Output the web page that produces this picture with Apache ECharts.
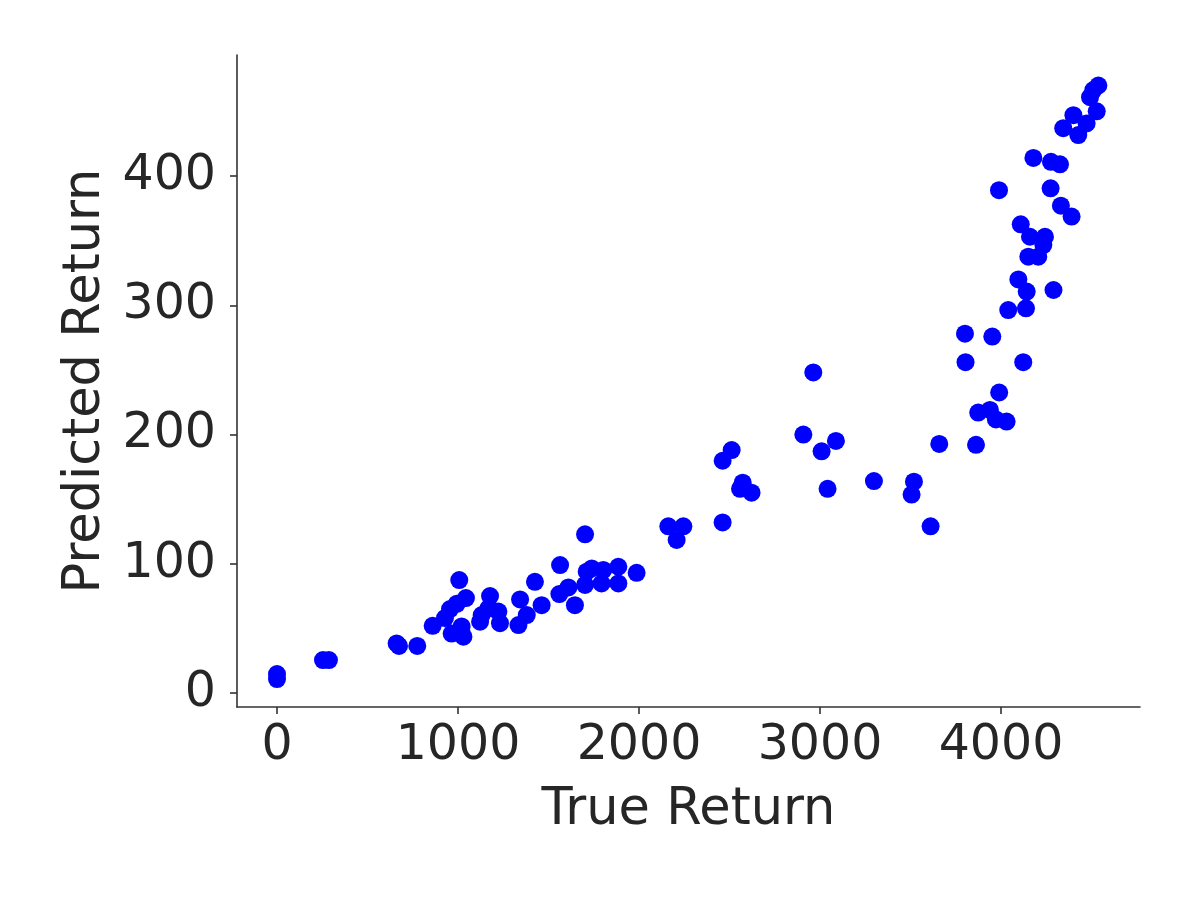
<!DOCTYPE html>
<html>
<head>
<meta charset="utf-8">
<script src="https://cdn.jsdelivr.net/npm/echarts@6/dist/echarts.min.js"></script>
<style>
  html, body { margin: 0; padding: 0; background: #fff; }
  #main { width: 1196px; height: 897px; }
</style>
</head>
<body>
<div id="main"></div>
<script>
// true vs predicted return
var trueReturn = [
    0, 0, 254, 287, 661, 674, 775, 860, 928, 956, 965, 993, 1007, 1020, 1030, 1044,
    1122, 1131, 1168, 1177, 1223, 1232, 1334, 1343, 1380, 1425, 1462, 1560, 1564, 1610,
    1646, 1702, 1702, 1711, 1739, 1793, 1803, 1886, 1886, 1987,
    2162, 2208, 2245, 2462, 2462, 2512, 2558, 2573, 2622,
    2908, 2963, 3009, 3042, 3088, 3298, 3506, 3519, 3611, 3659,
    3801, 3804, 3862, 3874, 3939, 3952, 3972, 3989, 3990, 4031, 4040,
    4096, 4109, 4123, 4138, 4142, 4151, 4160, 4179, 4206, 4234, 4243, 4274, 4276, 4290,
    4326, 4331, 4344, 4390, 4400, 4427, 4473, 4492, 4510, 4529, 4538
];
var predReturn = [
    14.7, 10.8, 25.5, 25.5, 38.4, 36.4, 36.4, 52, 58, 65, 46, 69, 87.4, 51.5, 43.6, 73.5,
    55.2, 60.3, 65.5, 75, 63, 54, 52.6, 72.4, 60.3, 86, 68, 76.6, 99, 81.7,
    68, 122.8, 83.6, 93.9, 96.4, 84.8, 95.2, 97.7, 84.8, 93,
    129, 118.4, 129, 179.7, 132, 188, 158, 162.7, 155,
    200, 248, 187, 158, 195, 164, 153.5, 163.5, 129, 192.7,
    278, 256, 192, 217, 219, 275.8, 211.7, 389, 232.5, 210, 296.3,
    320, 362.6, 256, 297.6, 310.6, 337.6, 353, 414, 337.6, 346.6, 353, 390.5, 411, 311.8,
    409, 377, 437, 368.6, 447, 431.7, 440.7, 461, 466.5, 450, 470
];
var xTicks = [0, 1000, 2000, 3000, 4000];
var yTicks = [0, 100, 200, 300, 400];

var points = trueReturn.map(function (x, i) { return [x, predReturn[i]]; });

var chart = echarts.init(document.getElementById('main'));
var fontFam = 'DejaVu Sans';
var textColor = '#262626';
var plain = function (v) { return String(v); };

var option = {
    backgroundColor: '#ffffff',
    animation: false,
    grid: { left: 237, right: 56, top: 55, bottom: 190, containLabel: false },
    xAxis: {
        type: 'value',
        min: -221,
        max: 4768,
        name: 'True Return',
        nameLocation: 'middle',
        nameGap: 78,
        nameTextStyle: { fontFamily: fontFam, fontSize: 51, color: textColor },
        axisLine: { show: true, onZero: false, lineStyle: { color: '#333', width: 1.6 } },
        axisTick: { show: true, length: 7, customValues: xTicks, lineStyle: { color: '#333', width: 1.6 } },
        axisLabel: {
            fontFamily: fontFam, fontSize: 49, color: textColor, margin: 15,
            customValues: xTicks, formatter: plain
        },
        splitLine: { show: false }
    },
    yAxis: {
        type: 'value',
        min: -10.8,
        max: 493.6,
        name: 'Predicted Return',
        nameLocation: 'middle',
        nameGap: 126,
        nameTextStyle: { fontFamily: fontFam, fontSize: 51, color: textColor },
        axisLine: { show: true, onZero: false, lineStyle: { color: '#333', width: 1.6 } },
        axisTick: { show: true, length: 7, customValues: yTicks, lineStyle: { color: '#333', width: 1.6 } },
        axisLabel: {
            fontFamily: fontFam, fontSize: 49, color: textColor, margin: 21,
            customValues: yTicks, formatter: plain
        },
        splitLine: { show: false }
    },
    series: [{
        type: 'scatter',
        data: points,
        symbolSize: 18,
        itemStyle: { color: '#0000ff', opacity: 1 }
    }]
};

chart.setOption(option);
</script>
</body>
</html>
